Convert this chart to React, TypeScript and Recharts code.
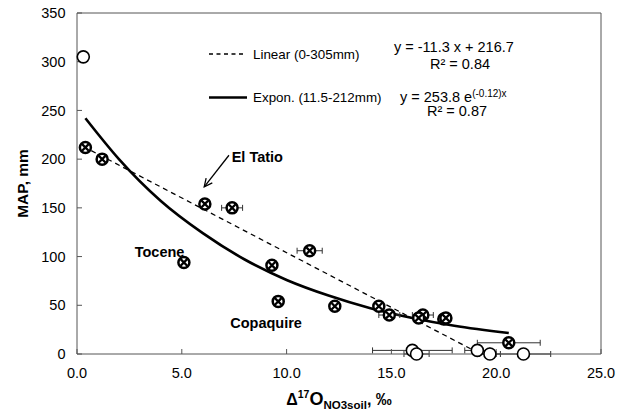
import {
  ComposedChart,
  ErrorBar,
  Line,
  ReferenceDot,
  ReferenceLine,
  Scatter,
  XAxis,
  YAxis,
} from 'recharts'

const FONT = '"Liberation Sans", Arial, sans-serif'
const AXIS = '#555'

// sites with a Δ17O error bar
const errSiteX = [7.4, 11.1, 14.9, 16.5, 20.6]
const errSiteY = [150, 106, 40, 40, 11.5]
const errSiteE = [0.5, 0.6, 0.5, 0.5, 1.5]

// sites without a visible error bar
const siteX = [0.4, 1.2, 6.1, 5.1, 9.3, 9.6, 12.3, 14.4, 16.3, 17.5, 17.6]
const siteY = [212, 200, 154, 94, 91, 54, 49, 49, 37, 36, 37]

// open circles (hyperarid, ~0 mm)
const openX = [16.0, 16.2, 19.1, 19.7, 21.3]
const openY = [3.7, 0, 3.7, 0, 0]
const openE = [1.9, 0.6, 0.6, 0.5, 1.3]
const wetX = [0.3]
const wetY = [305]

// trend lines
const linearX = [0.3, 18.9]
const linearY = [213, 4]
const exponX = [0.4, 2, 4, 6, 8, 10, 12, 14, 16, 18, 20.6]
const exponY = [242, 200, 157, 124, 97, 76, 60, 47, 37, 29, 21.5]

const xTicks = [0, 5, 10, 15, 20, 25]
const yTicks = [0, 50, 100, 150, 200, 250, 300, 350]

const errSites = errSiteX.map((x, i) => ({ x, y: errSiteY[i], e: errSiteE[i] }))
const sites = siteX.map((x, i) => ({ x, y: siteY[i] }))
const openSites = openX.map((x, i) => ({ x, y: openY[i], e: openE[i] }))
const wetSites = wetX.map((x, i) => ({ x, y: wetY[i] }))
const linearData = linearX.map((x, i) => ({ x, y: linearY[i] }))
const exponData = exponX.map((x, i) => ({ x, y: exponY[i] }))

// eslint-disable-next-line @typescript-eslint/no-explicit-any
function CrossedCircle(props: any) {
  const { cx, cy } = props
  const d = 3.3
  return (
    <g>
      <circle cx={cx} cy={cy} r={5.5} fill="#fff" stroke="#000" strokeWidth={2.5} />
      <path
        d={`M${cx - d},${cy - d}L${cx + d},${cy + d}M${cx - d},${cy + d}L${cx + d},${cy - d}`}
        stroke="#000"
        strokeWidth={2.3}
      />
    </g>
  )
}

// eslint-disable-next-line @typescript-eslint/no-explicit-any
function OpenCircle(props: any) {
  return <circle cx={props.cx} cy={props.cy} r={6} fill="#fff" stroke="#000" strokeWidth={1.6} />
}

// eslint-disable-next-line @typescript-eslint/no-explicit-any
function Arrow(props: any) {
  const { x1, y1, x2, y2 } = props
  const a = Math.atan2(y2 - y1, x2 - x1)
  const len = 9
  const spread = 0.45
  const p1 = [x2 - len * Math.cos(a - spread), y2 - len * Math.sin(a - spread)]
  const p2 = [x2 - len * Math.cos(a + spread), y2 - len * Math.sin(a + spread)]
  return (
    <g stroke="#000" strokeWidth={1.3} fill="none">
      <line x1={x1} y1={y1} x2={x2} y2={y2} />
      <path d={`M${p1[0]},${p1[1]}L${x2},${y2}L${p2[0]},${p2[1]}`} />
    </g>
  )
}

function siteLabel(text: string, anchor: 'start' | 'middle') {
  // eslint-disable-next-line @typescript-eslint/no-explicit-any
  return (p: any) => (
    <text
      x={p.cx}
      y={p.cy}
      dy="0.35em"
      textAnchor={anchor}
      fontFamily={FONT}
      fontWeight="bold"
      fontSize={14.5}
      fill="#000"
    >
      {text}
    </text>
  )
}

// eslint-disable-next-line @typescript-eslint/no-explicit-any
function XTitle(props: any) {
  const vb = props.viewBox
  const cx = vb.x + vb.width / 2
  return (
    <text x={cx} y={405} textAnchor="middle" fontFamily={FONT} fontWeight="bold" fontSize={16} fill="#000">
      <tspan>Δ</tspan>
      <tspan fontSize={10.5} dy={-7}>17</tspan>
      <tspan fontSize={18} dy={7}>O</tspan>
      <tspan fontSize={11.5} dy={4}>NO3soil</tspan>
      <tspan dy={-4}>, ‰</tspan>
    </text>
  )
}

function Overlay() {
  return (
    <svg
      width={630}
      height={414}
      style={{ position: 'absolute', left: 0, top: 0, pointerEvents: 'none' }}
      fontFamily={FONT}
    >
      <line x1={209} y1={54} x2={245} y2={54} stroke="#000" strokeWidth={1.3} strokeDasharray="4 3.5" />
      <text x={253} y={58.5} fontSize={13.4}>Linear (0-305mm)</text>
      <line x1={209} y1={97.5} x2={247} y2={97.5} stroke="#000" strokeWidth={2.6} />
      <text x={253} y={102} fontSize={13.4}>Expon. (11.5-212mm)</text>

      <text x={394} y={52} fontSize={14.5}>y = -11.3 x + 216.7</text>
      <text x={460} y={69} fontSize={14.5} textAnchor="middle">R² = 0.84</text>
      <text x={400} y={101.5} fontSize={14.5}>
        y = 253.8 e<tspan fontSize={10} dy={-5}>(-0.12)x</tspan>
      </text>
      <text x={457} y={116} fontSize={14.5} textAnchor="middle">R² = 0.87</text>
    </svg>
  )
}

export default function App() {
  const tick = { fill: '#000', fontSize: 14.5, fontFamily: FONT }
  return (
    <div style={{ position: 'absolute', left: 0, top: 0, width: 630, height: 414, background: '#fff' }}>
      <ComposedChart width={630} height={414} margin={{ top: 13, right: 29, bottom: 0, left: 0 }}>
        <XAxis
          type="number"
          dataKey="x"
          domain={[0, 25]}
          ticks={xTicks}
          tickFormatter={(v: number) => v.toFixed(1)}
          height={60}
          tick={tick}
          tickSize={-5}
          tickMargin={19}
          stroke={AXIS}
          label={<XTitle />}
        />
        <YAxis
          type="number"
          dataKey="y"
          domain={[0, 350]}
          ticks={yTicks}
          width={77}
          tick={tick}
          tickSize={-5}
          tickMargin={16.5}
          stroke={AXIS}
          label={{
            value: 'MAP, mm',
            angle: -90,
            position: 'insideLeft',
            offset: 22,
            fill: '#000',
            fontSize: 15.5,
            fontWeight: 'bold',
            fontFamily: FONT,
            style: { textAnchor: 'middle' },
          }}
        />
        <ReferenceLine y={350} stroke={AXIS} />
        <ReferenceLine x={25} stroke={AXIS} />

        <Line
          data={linearData}
          dataKey="y"
          type="linear"
          stroke="#000"
          strokeWidth={1.3}
          strokeDasharray="5 4"
          dot={false}
          isAnimationActive={false}
        />
        <Line
          data={exponData}
          dataKey="y"
          type="monotone"
          stroke="#000"
          strokeWidth={2.6}
          dot={false}
          isAnimationActive={false}
        />

        <Scatter data={openSites} dataKey="y" shape={OpenCircle} isAnimationActive={false}>
          <ErrorBar dataKey="e" direction="x" width={3} stroke="#333" strokeWidth={1} />
        </Scatter>
        <Scatter data={wetSites} dataKey="y" shape={OpenCircle} isAnimationActive={false} />
        <Scatter data={errSites} dataKey="y" shape={CrossedCircle} isAnimationActive={false}>
          <ErrorBar dataKey="e" direction="x" width={3} stroke="#333" strokeWidth={1} />
        </Scatter>
        <Scatter data={sites} dataKey="y" shape={CrossedCircle} isAnimationActive={false} />

        <ReferenceLine
          segment={[
            { x: 7.25, y: 204 },
            { x: 6.07, y: 171.5 },
          ]}
          shape={Arrow}
        />
        <ReferenceDot x={7.38} y={202.5} r={0} shape={siteLabel('El Tatio', 'start')} />
        <ReferenceDot x={3.94} y={105} r={0} shape={siteLabel('Tocene', 'middle')} />
        <ReferenceDot x={9.02} y={32.4} r={0} shape={siteLabel('Copaquire', 'middle')} />
      </ComposedChart>
      <Overlay />
    </div>
  )
}
